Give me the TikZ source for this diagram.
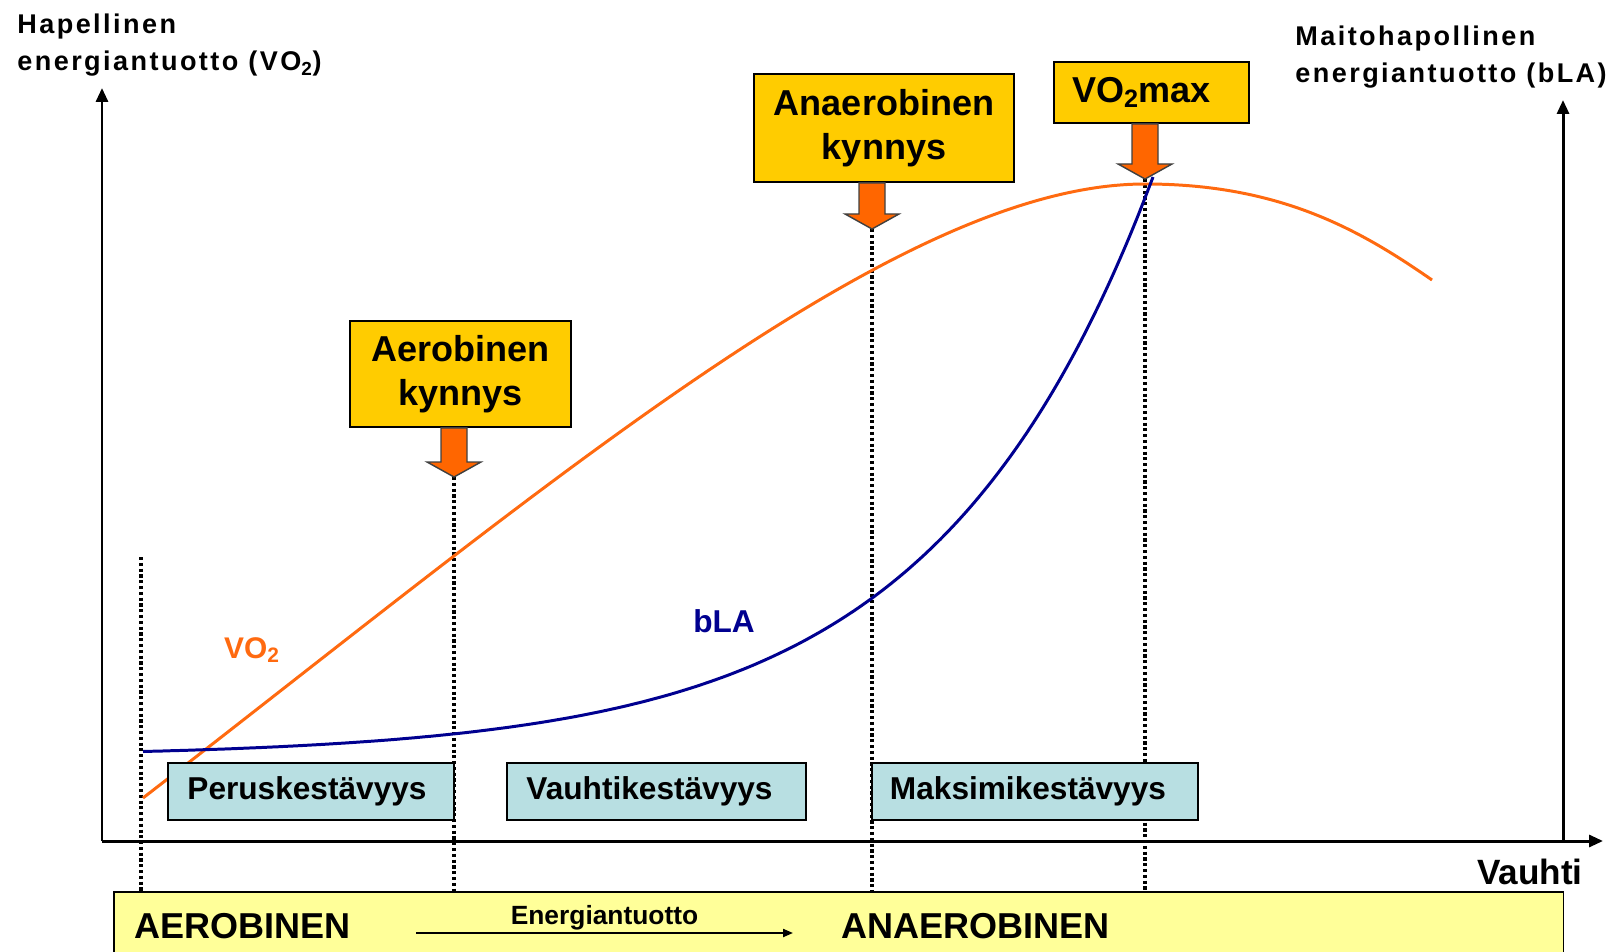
\documentclass[tikz,border=0pt]{standalone}
\usepackage{fontspec}
\setmainfont{Liberation Sans}
\usepackage{tikz}
\usetikzlibrary{arrows.meta,calc,positioning}

\definecolor{kynnyskeltainen}{HTML}{FFCC00}
\definecolor{nuolioranssi}{HTML}{FF6600}
\definecolor{vokayra}{HTML}{FF6A10}
\definecolor{blakayra}{HTML}{000090}
\definecolor{alueturkoosi}{HTML}{B8DFE2}
\definecolor{palkkikeltainen}{HTML}{FFFF99}

\tikzset{
  akseli/.style={line width=1.7pt, -{Triangle[length=0.28cm,width=0.24cm]}},
  kynnys/.style={draw, fill=kynnyskeltainen, line width=1pt, inner sep=0pt, align=center,
    font=\bfseries\fontsize{20.5}{25}\selectfont},
  alue/.style={draw, fill=alueturkoosi, line width=1pt, inner sep=0pt, minimum height=1.14cm,
    font=\bfseries\fontsize{18}{20}\selectfont},
  katko/.style={line width=1.8pt, dash pattern=on 1.8pt off 1.5pt},
  nuoli/.style={draw=black!75, fill=nuolioranssi, line width=0.8pt},
  otsikko/.style={inner sep=0pt, align=left, font=\bfseries\fontsize{15.4}{21}\selectfont\addfontfeature{LetterSpace=9}},
  palkkiteksti/.style={inner sep=0pt, font=\bfseries\fontsize{20.5}{24}\selectfont}
}

\begin{document}
\begin{tikzpicture}[x=0.02cm, y=-0.02cm]
    \useasboundingbox (0,0) rectangle (1618,952);

    % akselit
    \coordinate (o) at (102,841);
    \coordinate (vy) at (102,88);
    \coordinate (vx) at (1603,841);
    \coordinate (oa) at (1563,841);
    \coordinate (oy) at (1563,100);
    \draw[akseli] (o) -- (vy);
    \draw[akseli] (o) -- (vx);
    \draw[akseli] (oa) -- (oy);

    \node[otsikko, anchor=north west] (hap) at (17,14) {Hapellinen\\energiantuotto (VO\textsubscript{2})};
    \node[otsikko, anchor=north west] (mai) at (1295,26) {Maitohapollinen\\energiantuotto (bLA)};
    \node[palkkiteksti, anchor=north, font=\bfseries\fontsize{20}{24}\selectfont] (vauhti) at (1530,859) {Vauhti};

    % alapalkki
    \node[draw, fill=palkkikeltainen, line width=1pt, anchor=north west, minimum width=29cm, minimum height=1.4cm] (palkki) at (113,891) {};
    \node[palkkiteksti, anchor=west] (aer) at (134,926) {AEROBINEN};
    \node[palkkiteksti, anchor=west] (anaer) at (841,926) {ANAEROBINEN};
    \coordinate (e0) at (416,933);
    \coordinate (e1) at (793,933);
    \draw[line width=1.2pt, -{Triangle[length=0.2cm,width=0.16cm]}] (e0) -- (e1)
      node[midway, above=1pt, inner sep=0pt, font=\bfseries\fontsize{15}{18}\selectfont] (energia) {Energiantuotto};

    % kynnysviivat
    \coordinate (t0) at (141,557);
    \coordinate (t1) at (454,477);
    \coordinate (t2) at (872,229);
    \coordinate (t3) at (1145,179);
    \foreach \k in {t0,t1,t2,t3}
      \draw[katko] (\k) -- (\k |- palkki.north);

    % kayrat
    \draw[vokayra, line width=1.7pt] (143,798) .. controls (550,483) and (900,184) .. (1145,184)
      .. controls (1280,184) and (1360,230) .. (1432,280);
    \draw[blakayra, line width=1.7pt] plot[domain=143:1153, samples=120, smooth]
      ({\x}, {757-580*exp((\x-1153)/217)});
    \node[vokayra, font=\bfseries\fontsize{17}{20}\selectfont] (vo) at (252,650) {VO\textsubscript{2}};
    \node[blakayra, font=\bfseries\fontsize{18}{20}\selectfont] (bla) at (724,621) {bLA};

    % harjoitusalueet
    \node[alue, minimum width=5.72cm] (perus) at (311,791.5) {Peruskestävyys\hspace*{0.16cm}};
    \node[alue, minimum width=5.98cm] (vauhtik) at (656.5,791.5) {Vauhtikestävyys\hspace*{0.28cm}};
    \node[alue, minimum width=6.52cm] (maksimi) at (1035,791.5) {Maksimikestävyys\hspace*{0.28cm}};

    % kynnykset
    \node[kynnys, minimum width=4.42cm, minimum height=2.12cm] (ak) at (460.5,374) {Aerobinen\\kynnys};
    \node[kynnys, minimum width=5.2cm, minimum height=2.16cm] (ank) at (884,128) {Anaerobinen\\kynnys};
    \node[kynnys, minimum width=3.9cm, minimum height=1.22cm] (vmax) at (1151.5,92.5) {VO\textsubscript{2}max\hspace*{0.4cm}};

    \foreach \laatikko/\karki in {ak/t1,ank/t2,vmax/t3}
      \draw[nuoli] ($(\laatikko.south -| \karki)+(-13,0)$) -- ($(\karki)+(-13,-15)$) -- ($(\karki)+(-27,-15)$)
        -- (\karki) -- ($(\karki)+(27,-15)$) -- ($(\karki)+(13,-15)$) -- ($(\laatikko.south -| \karki)+(13,0)$) -- cycle;
\end{tikzpicture}
\end{document}
